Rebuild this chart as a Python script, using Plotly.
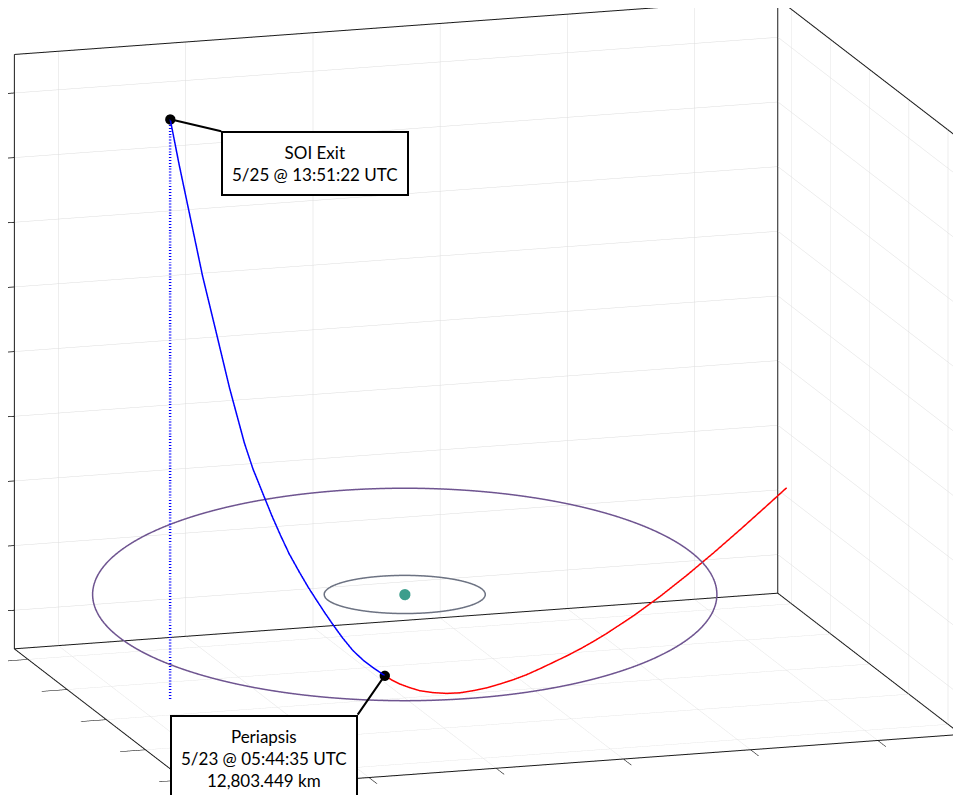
import numpy as np
import plotly.graph_objects as go

# ---------------- data (units: 10^4 km, body-centred frame) ----------------
x_range = [-4.70, 7.31]
y_range = [-4.69, 4.69]
z_range = [-1.60, 7.60]
x_dtick, y_dtick, z_dtick = 2, 2, 1

body_pos = [0.0, 0.0, 0.0]
inner_orbit_radius = 1.21
outer_orbit_radius = 4.69
outer_orbit_incl_deg = 6.2
outer_orbit_node_deg = -17.1

# outbound leg: periapsis -> SOI exit (blue)
out_x = [-0.531, -0.733, -0.892, -1.072, -1.244, -1.393, -1.513, -1.626,
         -1.777, -1.911, -2.066, -2.192, -2.318, -2.430, -2.574, -2.682,
         -2.852, -2.991, -3.132, -3.240, -3.349, -3.427]
out_y = [-0.701, -0.759, -0.800, -0.836, -0.852, -0.856, -0.857, -0.853,
         -0.848, -0.834, -0.812, -0.775, -0.729, -0.676, -0.608, -0.522,
         -0.309, -0.079, 0.150, 0.395, 0.639, 0.846]
out_z = [-1.054, -0.902, -0.773, -0.596, -0.379, -0.166, 0.014, 0.192,
         0.434, 0.673, 0.965, 1.253, 1.564, 1.873, 2.269, 2.658,
         3.479, 4.296, 5.113, 5.923, 6.734, 7.397]

# inbound leg: box edge -> periapsis (red)
in_x = [7.299, 6.906, 6.362, 5.820, 5.281, 4.742, 4.207, 3.678, 3.413, 3.151,
        2.890, 2.627, 2.368, 2.108, 1.849, 1.593, 1.338, 1.083, 0.832, 0.583,
        0.330, 0.091, -0.089, -0.268, -0.409, -0.531]
in_y = [4.213, 3.922, 3.522, 3.126, 2.737, 2.355, 1.983, 1.625, 1.449, 1.278,
        1.111, 0.945, 0.782, 0.620, 0.464, 0.313, 0.165, 0.023, -0.114, -0.241,
        -0.363, -0.472, -0.545, -0.615, -0.663, -0.701]
in_z = [0.145, -0.030, -0.269, -0.499, -0.716, -0.916, -1.093, -1.243, -1.308,
        -1.366, -1.415, -1.458, -1.499, -1.536, -1.559, -1.572, -1.579, -1.571,
        -1.554, -1.516, -1.457, -1.385, -1.308, -1.222, -1.138, -1.054]

soi_exit = [-3.427, 0.846, 7.397]
periapsis = [-0.531, -0.701, -1.054]
soi_text = "SOI Exit<br>5/25 @ 13:51:22 UTC"
peri_text = "Periapsis<br>5/23 @ 05:44:35 UTC<br>12,803.449 km"

# view (azimuth of eye in x-y plane, elevation), zoom and framing
view_az_deg = 252.9
view_el_deg = 13.7
eye_dist = 2.5
fig_w, fig_h = 945, 787          # leaves room for the page's default body margin
zoom = 1.556
px_per_unit = 1.005 * fig_h / 2
shift_up_px = 7.1
shift_right_px = 7.3
view_target = [1.305, 0.0, 3.0]   # data point kept at the centre of the view

# ---------------- figure ----------------
fig = go.Figure()

t = np.linspace(0, 2 * np.pi, 361)
fig.add_trace(go.Scatter3d(
    x=body_pos[0] + inner_orbit_radius * np.cos(t),
    y=body_pos[1] + inner_orbit_radius * np.sin(t),
    z=body_pos[2] + 0 * t,
    mode="lines", line=dict(color="#6c7282", width=3), hoverinfo="skip"))

inc = np.radians(outer_orbit_incl_deg)
om = np.radians(outer_orbit_node_deg)
N = np.array([np.cos(om), np.sin(om), 0.0])
M = np.array([-np.sin(om) * np.cos(inc), np.cos(om) * np.cos(inc), np.sin(inc)])
pts = outer_orbit_radius * (np.outer(np.cos(t), N) + np.outer(np.sin(t), M))
fig.add_trace(go.Scatter3d(
    x=pts[:, 0] + body_pos[0], y=pts[:, 1] + body_pos[1], z=pts[:, 2] + body_pos[2],
    mode="lines", line=dict(color="#6e5490", width=3), hoverinfo="skip"))

fig.add_trace(go.Scatter3d(x=in_x, y=in_y, z=in_z, mode="lines",
                           line=dict(color="#ff0000", width=3), hoverinfo="skip"))
fig.add_trace(go.Scatter3d(x=out_x, y=out_y, z=out_z, mode="lines",
                           line=dict(color="#0000ff", width=3), hoverinfo="skip"))

# box edges (back planes) just inside the axis limits so they are not clipped
x0, x1 = x_range
y0, y1 = y_range
z0, z1 = z_range
eps = 0.004
bx0, bx1, by0, by1, bz0, bz1 = x0 + eps, x1 - eps, y0 + eps, y1 - eps, z0 + eps, z1 - eps

fig.add_trace(go.Scatter3d(
    x=[soi_exit[0], soi_exit[0]], y=[soi_exit[1], soi_exit[1]], z=[soi_exit[2], bz0],
    mode="lines", line=dict(color="#0000ff", width=5, dash="dot"), hoverinfo="skip"))

fig.add_trace(go.Scatter3d(x=[body_pos[0]], y=[body_pos[1]], z=[body_pos[2]],
                           mode="markers", marker=dict(color="#3c9e8c", size=6.5),
                           hoverinfo="skip"))
fig.add_trace(go.Scatter3d(x=[soi_exit[0], periapsis[0]], y=[soi_exit[1], periapsis[1]],
                           z=[soi_exit[2], periapsis[2]], mode="markers",
                           marker=dict(color="black", size=6), hoverinfo="skip"))

edges = [
    [(bx0, by1, bz0), (bx1, by1, bz0)], [(bx0, by1, bz1), (bx1, by1, bz1)],
    [(bx0, by1, bz0), (bx0, by1, bz1)], [(bx1, by1, bz0), (bx1, by1, bz1)],
    [(bx1, by0, bz0), (bx1, by0, bz1)], [(bx1, by0, bz1), (bx1, by1, bz1)],
    [(bx1, by0, bz0), (bx1, by1, bz0)], [(bx0, by0, bz0), (bx1, by0, bz0)],
    [(bx0, by0, bz0), (bx0, by1, bz0)],
]
ex, ey, ez = [], [], []
for a, b in edges:
    ex += [a[0], b[0], None]
    ey += [a[1], b[1], None]
    ez += [a[2], b[2], None]
fig.add_trace(go.Scatter3d(x=ex, y=ey, z=ez, mode="lines",
                           line=dict(color="#1a1a1a", width=2), hoverinfo="skip"))

Lx, Ly, Lz = x1 - x0, y1 - y0, z1 - z0
az, el = np.radians(view_az_deg), np.radians(view_el_deg)
d = np.array([np.cos(el) * np.cos(az), np.cos(el) * np.sin(az), np.sin(el)])
up_vec = np.array([-np.sin(el) * np.cos(az), -np.sin(el) * np.sin(az), np.cos(el)])
right_vec = np.array([-np.sin(az), np.cos(az), 0.0])
box_c = np.array([(x0 + x1) / 2, (y0 + y1) / 2, (z0 + z1) / 2])
scale_n = zoom / Lz
c = ((np.array(view_target) - box_c) * scale_n
     - (shift_up_px / px_per_unit) * up_vec
     - (shift_right_px / px_per_unit) * right_vec)
e = c + eye_dist * d

axis_common = dict(showticklabels=False, ticks="outside", ticklen=26,
                   tickcolor="black", tickwidth=1.5, showgrid=True,
                   gridcolor="#dcdcdc", gridwidth=1, zeroline=False,
                   showline=False, showbackground=False, showspikes=False,
                   title=dict(text=""), tick0=0)

ann_font = dict(family="Lato", size=17, color="black")
fig.update_layout(
    width=fig_w, height=fig_h, margin=dict(l=0, r=0, t=0, b=0),
    paper_bgcolor="white", showlegend=False,
    font=dict(family="Lato", size=17, color="black"),
    scene=dict(
        domain=dict(x=[0, 1], y=[0, 1]),
        xaxis=dict(range=x_range, dtick=x_dtick, **axis_common),
        yaxis=dict(range=y_range, dtick=y_dtick, **axis_common),
        zaxis=dict(range=z_range, dtick=z_dtick, **axis_common),
        aspectmode="manual",
        aspectratio=dict(x=zoom * Lx / Lz, y=zoom * Ly / Lz, z=zoom),
        camera=dict(projection=dict(type="orthographic"),
                    up=dict(x=0, y=0, z=1),
                    center=dict(x=c[0], y=c[1], z=c[2]),
                    eye=dict(x=e[0], y=e[1], z=e[2])),
        bgcolor="white",
        annotations=[
            dict(x=soi_exit[0], y=soi_exit[1], z=soi_exit[2], text=soi_text,
                 showarrow=True, arrowhead=0, arrowwidth=2, arrowcolor="black",
                 ax=51, ay=12, xanchor="left", yanchor="top",
                 bordercolor="black", borderwidth=2, borderpad=9, bgcolor="white",
                 font=ann_font),
            dict(x=periapsis[0], y=periapsis[1], z=periapsis[2], text=peri_text,
                 showarrow=True, arrowhead=0, arrowwidth=2, arrowcolor="black",
                 ax=-27, ay=39, xanchor="right", yanchor="top",
                 bordercolor="black", borderwidth=2, borderpad=9, bgcolor="white",
                 font=ann_font),
        ],
    ),
)

fig.write_html("out.html")
